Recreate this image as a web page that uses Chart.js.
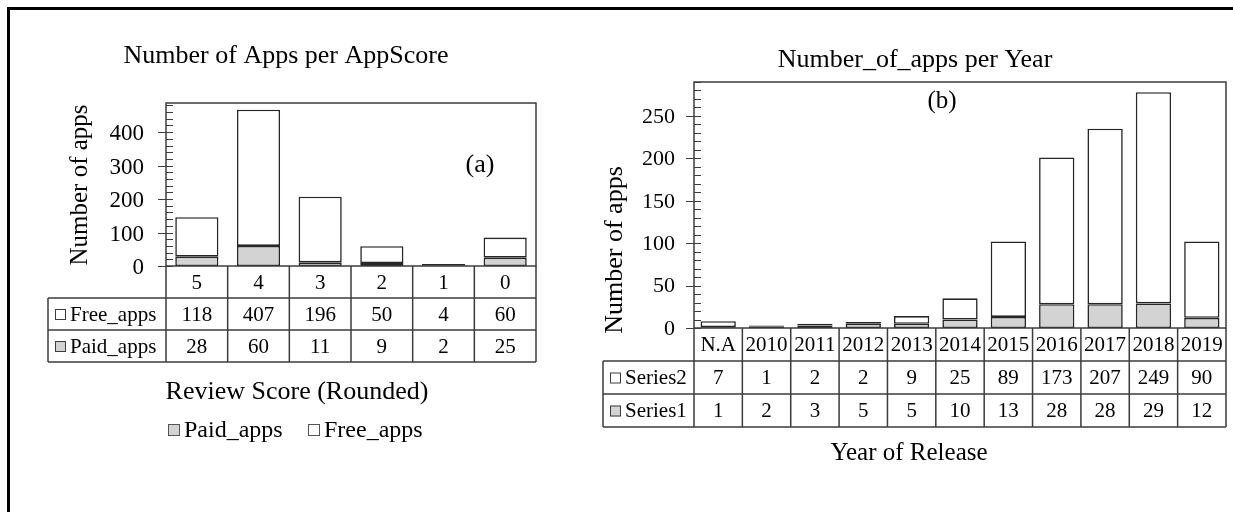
<!DOCTYPE html>
<html>
<head>
<meta charset="utf-8">
<script src="https://cdn.jsdelivr.net/npm/chart.js@4.4.1/dist/chart.umd.min.js"></script>
<style>
  html, body { margin: 0; padding: 0; background: #fff; overflow: hidden; }
  body { width: 1233px; height: 512px; position: relative; }
  .frame { position: absolute; left: 7px; top: 7px; width: 1400px; height: 700px; border: 3px solid #000; box-sizing: border-box; }
  .box { position: absolute; top: 0; height: 512px; }
  #boxA { left: 0; width: 600px; }
  #boxB { left: 600px; width: 633px; }
</style>
</head>
<body>
<div class="frame"></div>
<div class="box" id="boxA"><canvas id="chart-a"></canvas></div>
<div class="box" id="boxB"><canvas id="chart-b"></canvas></div>
<script>
// (a) apps per review score
var scoreLabels = ['5', '4', '3', '2', '1', '0'];
var freeApps = [118, 407, 196, 50, 4, 60];
var paidApps = [28, 60, 11, 9, 2, 25];
var scoreTicks = [0, 100, 200, 300, 400];

// (b) apps per year of release
var yearLabels = ['N.A', '2010', '2011', '2012', '2013', '2014', '2015', '2016', '2017', '2018', '2019'];
var series2 = [7, 1, 2, 2, 9, 25, 89, 173, 207, 249, 90];
var series1 = [1, 2, 3, 5, 5, 10, 13, 28, 28, 29, 12];
var yearTicks = [0, 50, 100, 150, 200, 250];

var FONT = '"Liberation Serif", "Times New Roman", serif';
var GREY = '#d3d3d3';
var LINE = '#3c3c3c';

Chart.defaults.font.family = FONT;
Chart.defaults.color = '#000';

function drawText(ctx, t) {
    ctx.save();
    ctx.translate(t.x, t.y);
    if (t.rotate) ctx.rotate(-Math.PI / 2);
    ctx.font = t.size + 'px ' + FONT;
    ctx.fillStyle = '#000';
    ctx.textAlign = t.align || 'center';
    ctx.textBaseline = t.baseline || 'alphabetic';
    ctx.fillText(t.text, 0, 0);
    ctx.restore();
}

// excel-like frame, minor ticks and data table under the x axis
function excelPlugin(cfg) {
    return {
        id: 'excelTable',
        afterDraw: function (chart) {
            var ctx = chart.ctx;
            var area = chart.chartArea;
            var xs = chart.scales.x, ys = chart.scales.y;
            var labels = chart.data.labels;
            var n = labels.length;
            var step = (area.right - area.left) / n;
            var rb = cfg.rowBottoms;

            ctx.save();
            ctx.strokeStyle = LINE;
            ctx.lineWidth = 1.5;
            ctx.strokeRect(area.left, area.top, area.right - area.left, area.bottom - area.top);

            // ticks on the value axis
            ctx.lineWidth = 1;
            for (var v = 0; v <= ys.max; v += cfg.minorStep) {
                var py = Math.round(ys.getPixelForValue(v)) + 0.5;
                var major = v % cfg.majorStep === 0;
                ctx.beginPath();
                ctx.moveTo(area.left - (major ? 8 : 0), py);
                ctx.lineTo(area.left + 7, py);
                ctx.stroke();
            }

            // table grid
            ctx.lineWidth = 1.5;
            ctx.beginPath();
            rb.forEach(function (yy) {
                ctx.moveTo(cfg.tableLeft, yy);
                ctx.lineTo(area.right, yy);
            });
            ctx.moveTo(cfg.tableLeft, rb[0]);
            ctx.lineTo(cfg.tableLeft, rb[rb.length - 1]);
            for (var k = 0; k <= n; k++) {
                var cx = area.left + k * step;
                ctx.moveTo(cx, area.bottom);
                ctx.lineTo(cx, rb[rb.length - 1]);
            }
            ctx.stroke();

            // category row
            labels.forEach(function (lab, i) {
                drawText(ctx, { text: lab, x: xs.getPixelForValue(i), y: (area.bottom + rb[0]) / 2 + 1, size: cfg.cellSize, baseline: 'middle' });
            });

            // one row per series, top series first
            var sets = chart.data.datasets.slice().reverse();
            sets.forEach(function (ds, r) {
                var yc = (rb[r] + rb[r + 1]) / 2 + 1;
                ctx.fillStyle = ds.backgroundColor;
                ctx.fillRect(cfg.keyX, yc - 6, 11, 11);
                ctx.strokeStyle = LINE;
                ctx.lineWidth = 1;
                ctx.strokeRect(cfg.keyX + 0.5, yc - 5.5, 10, 10);
                drawText(ctx, { text: ds.label, x: cfg.labelX, y: yc, size: cfg.cellSize, baseline: 'middle', align: 'left' });
                ds.data.forEach(function (val, i) {
                    drawText(ctx, { text: String(val), x: xs.getPixelForValue(i), y: yc, size: cfg.cellSize, baseline: 'middle' });
                });
            });

            // legend below the axis title
            if (cfg.legend) {
                chart.data.datasets.forEach(function (ds, i) {
                    var it = cfg.legend.items[i];
                    ctx.fillStyle = ds.backgroundColor;
                    ctx.fillRect(it.box, cfg.legend.y - 6, 12, 12);
                    ctx.strokeStyle = '#555';
                    ctx.lineWidth = 1;
                    ctx.strokeRect(it.box + 0.5, cfg.legend.y - 5.5, 11, 11);
                    drawText(ctx, { text: ds.label, x: it.text, y: cfg.legend.y + 1, size: cfg.legend.size, baseline: 'middle', align: 'left' });
                });
            }

            cfg.texts.forEach(function (t) { drawText(ctx, t); });
            ctx.restore();
        }
    };
}

function makeChart(id, labels, datasets, axis, cfg) {
    return new Chart(document.getElementById(id), {
        type: 'bar',
        data: { labels: labels, datasets: datasets },
        options: {
            responsive: true,
            maintainAspectRatio: false,
            animation: false,
            layout: { padding: cfg.padding },
            plugins: {
                legend: { display: false },
                title: { display: false },
                tooltip: { enabled: false }
            },
            scales: {
                x: { stacked: true, display: false },
                y: {
                    stacked: true,
                    min: 0,
                    max: axis.max,
                    grid: { display: false, drawTicks: false },
                    border: { display: false },
                    ticks: { padding: axis.padding, labelOffset: axis.labelOffset, font: { size: axis.size }, color: '#000' },
                    afterBuildTicks: function (s) { s.ticks = axis.ticks.map(function (v) { return { value: v }; }); },
                    afterFit: function (s) { s.width = axis.width; }
                }
            }
        },
        plugins: [excelPlugin(cfg)]
    });
}

function barSet(label, data, color, pct) {
    return {
        label: label,
        data: data,
        backgroundColor: color,
        borderColor: '#262626',
        borderWidth: 1.6,
        borderSkipped: false,
        categoryPercentage: 1,
        barPercentage: pct
    };
}

makeChart('chart-a', scoreLabels, [
    barSet('Paid_apps', paidApps, GREY, 0.7),
    barSet('Free_apps', freeApps, '#ffffff', 0.7)
], { max: 487, ticks: scoreTicks, padding: 22, labelOffset: 2, size: 23, width: 166 }, {
    padding: { top: 103, bottom: 246, left: 0, right: 64 },
    minorStep: 20, majorStep: 100,
    tableLeft: 48, rowBottoms: [298, 330, 362],
    keyX: 55, labelX: 70, cellSize: 21,
    legend: { y: 430, size: 24, items: [{ box: 168, text: 184 }, { box: 308, text: 324 }] },
    texts: [
        { text: 'Number of Apps per AppScore', x: 286, y: 63, size: 26 },
        { text: 'Number of apps', x: 80, y: 185, size: 25, rotate: true, baseline: 'middle' },
        { text: '(a)', x: 480, y: 172, size: 26 },
        { text: 'Review Score (Rounded)', x: 297, y: 399, size: 26 }
    ]
});

makeChart('chart-b', yearLabels, [
    barSet('Series1', series1, GREY, 0.73),
    barSet('Series2', series2, '#ffffff', 0.73)
], { max: 290, ticks: yearTicks, padding: 19, labelOffset: 1, size: 22, width: 94 }, {
    padding: { top: 82, bottom: 184, left: 0, right: 7 },
    minorStep: 10, majorStep: 50,
    tableLeft: 3, rowBottoms: [361, 394, 427],
    keyX: 10, labelX: 25, cellSize: 21,
    legend: null,
    texts: [
        { text: 'Number_of_apps per Year', x: 315, y: 67, size: 26 },
        { text: 'Number of apps', x: 15, y: 250, size: 26, rotate: true, baseline: 'middle' },
        { text: '(b)', x: 342, y: 108, size: 25 },
        { text: 'Year of Release', x: 309, y: 460, size: 25 }
    ]
});
</script>
</body>
</html>
